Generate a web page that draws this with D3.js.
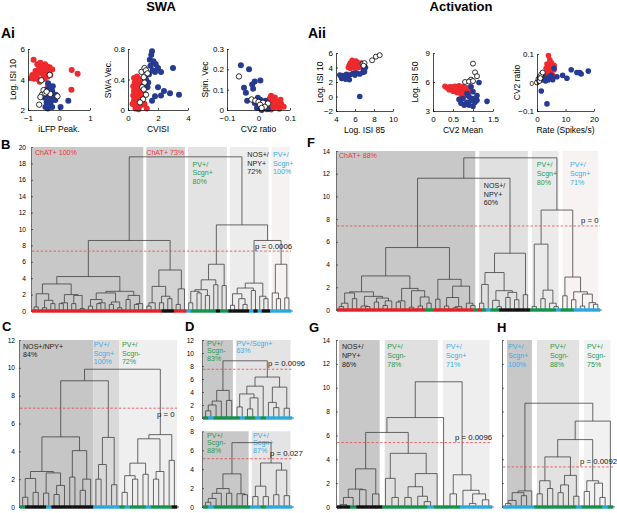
<!DOCTYPE html>
<html>
<head>
<meta charset="utf-8">
<script src="https://cdn.jsdelivr.net/npm/d3@7"></script>
<style>
  body { margin: 0; background: #fff; }
  svg { display: block; }
</style>
</head>
<body>
<svg id="fig" width="617" height="513"></svg>
<script>
// ---------- scatter data (x, y) ----------
const ai1Red = [[-0.82,5.3],[-0.7,5.0],[-0.6,5.1],[-0.52,4.95],[-0.45,5.0],[-0.38,4.85],[-0.3,4.8],[-0.58,4.8],[-0.66,4.65],[-0.76,4.55],[-0.86,4.3],[-0.9,4.1],[-0.72,4.25],[-0.6,4.45],[-0.5,4.55],[-0.42,4.45],[-0.32,4.55],[-0.22,4.65],[-0.36,4.2],[-0.5,4.25],[-0.66,4.0],[-0.8,4.05],[-0.46,4.05],[-0.28,4.3],[-0.55,4.65],[-0.4,4.65],[-0.62,3.85],[0.41,4.62],[0.6,4.38],[0.4,3.33],[-0.33,3.45],[-0.35,3.6]];
const ai1Blue = [[-0.35,3.75],[-0.3,3.55],[-0.42,3.35],[-0.22,3.25],[-0.36,3.05],[-0.26,2.95],[-0.46,2.8],[-0.32,2.7],[-0.16,2.85],[-0.4,2.5],[-0.3,2.4],[-0.44,2.2],[-0.36,2.1],[-0.22,2.2],[-0.26,2.55],[-0.12,2.65],[0.05,2.2],[0.3,2.6],[-0.2,3.55],[-0.1,3.0],[-0.38,2.3]];
const ai1Open = [[-0.64,2.35],[-0.55,3.0],[-0.5,3.3],[-0.44,3.1],[-0.3,4.3],[-0.57,3.95],[-0.05,2.9],[-0.28,3.05],[-0.6,2.85],[-0.4,3.2]];

const ai2Red = [[0.4,0.42],[0.55,0.4],[0.7,0.41],[0.45,0.36],[0.6,0.35],[0.8,0.37],[0.35,0.31],[0.5,0.3],[0.65,0.29],[0.85,0.31],[0.4,0.25],[0.55,0.24],[0.7,0.23],[0.9,0.25],[0.35,0.19],[0.5,0.18],[0.65,0.17],[0.8,0.18],[0.4,0.13],[0.55,0.12],[0.7,0.11],[0.9,0.12],[0.45,0.07],[0.6,0.06],[0.75,0.05],[0.95,0.07],[0.5,0.02],[0.7,0.01],[1.05,0.22],[1.1,0.08],[1.25,0.02],[0.6,0.44],[0.3,0.08]];
const ai2Blue = [[1.6,0.77],[1.55,0.72],[1.45,0.66],[1.7,0.64],[1.85,0.6],[1.5,0.58],[2.0,0.55],[1.65,0.52],[1.4,0.47],[2.2,0.5],[1.8,0.5],[3.0,0.55],[1.2,0.4],[1.35,0.36],[2.0,0.3],[2.4,0.25],[2.8,0.22],[3.4,0.2],[1.8,0.18],[2.2,0.19],[1.6,0.12],[1.3,0.3]];
const ai2Open = [[0.9,0.5],[1.1,0.55],[1.2,0.52],[1.3,0.48],[1.1,0.36],[0.95,0.3],[1.05,0.27],[1.2,0.2],[1.0,0.14],[0.8,0.1],[1.05,0.43]];

const ai3Red = [[0.04,0.07],[0.052,0.062],[0.036,0.056],[0.046,0.046],[0.062,0.042],[0.032,0.032],[0.052,0.032],[0.072,0.03],[0.042,0.022],[0.062,0.022],[0.03,0.012],[0.05,0.012],[0.022,0.022],[0.08,0.016],[0.066,0.006],[0.056,0.018],[0.026,0.004],[0.04,0.002],[0.07,0.05],[0.035,0.045]];
const ai3Blue = [[-0.056,0.22],[-0.03,0.2],[-0.012,0.14],[0.006,0.145],[-0.02,0.125],[-0.017,0.105],[-0.046,0.11],[-0.04,0.085],[-0.036,0.045],[-0.002,0.06],[-0.012,0.035],[0.0,0.02],[0.006,0.05],[0.012,0.03],[0.022,0.045],[0.016,0.012],[0.026,0.022],[-0.005,0.01],[0.03,0.005],[0.01,0.0]];
const ai3Open = [[-0.062,0.165],[-0.022,0.052],[-0.01,0.046],[0.0,0.04],[0.014,0.036],[0.03,0.032],[0.005,0.026],[0.02,0.016],[0.01,0.01]];

const aii1Red = [[5.7,5.0],[5.9,4.8],[6.1,4.9],[5.5,4.6],[5.8,4.5],[6.0,4.65],[6.3,4.7],[6.5,4.5],[5.6,4.2],[5.9,4.1],[6.2,4.3],[6.6,4.3],[5.3,4.0],[6.4,4.0],[6.8,4.2],[5.5,3.9],[6.0,3.9],[6.7,4.6],[5.8,4.35],[6.3,4.5],[6.1,4.1],[5.4,4.3]];
const aii1Blue = [[4.5,2.85],[4.8,2.7],[5.0,2.85],[5.2,2.6],[4.6,2.5],[5.0,2.4],[5.4,2.3],[5.5,3.0],[5.8,3.2],[6.2,3.25],[6.5,3.1],[6.8,3.3],[7.0,3.4],[7.1,4.0],[6.0,2.95],[4.4,2.95],[5.1,3.05],[6.5,0.0],[6.9,3.8],[4.7,2.9]];
const aii1Open = [[6.8,4.5],[7.0,4.6],[7.8,5.0],[8.2,5.5],[8.6,5.7],[6.9,4.25]];

const aii2Red = [[0.3,5.55],[0.35,5.4],[0.42,5.5],[0.45,5.3],[0.5,5.5],[0.55,5.2],[0.6,5.4],[0.65,5.0],[0.7,5.3],[0.75,5.5],[0.8,5.1],[0.85,5.4],[0.9,5.0],[0.6,4.9],[0.7,4.7],[0.5,5.05],[0.8,4.6],[0.95,5.5],[0.4,5.2],[0.75,4.9],[0.65,5.6],[0.55,5.55],[0.88,4.8]];
const aii2Blue = [[0.7,3.8],[0.8,3.7],[0.9,3.6],[1.0,3.5],[0.85,3.9],[0.95,4.1],[1.05,3.9],[0.75,4.3],[0.9,4.5],[1.1,4.6],[1.0,5.0],[0.95,5.5],[1.15,5.95],[1.35,4.0],[0.65,4.2],[1.0,4.3],[0.85,4.8],[1.1,4.1],[0.78,3.6]];
const aii2Open = [[1.0,7.9],[1.05,7.0],[1.1,6.6],[0.95,6.25],[0.8,6.0],[0.9,6.05],[1.0,6.1]];

const aii3Red = [[4,0.095],[4.5,0.08],[5,0.07],[3.5,0.065],[4,0.06],[5.5,0.055],[3.2,0.05],[4.5,0.045],[5,0.04],[6,0.045],[3.8,0.035],[4.8,0.03],[5.5,0.025],[3,0.03],[4.2,0.02],[6,0.06]];
const aii3Blue = [[6,0.05],[5,0.025],[4,0.01],[3,0.005],[2,0.01],[1.5,-0.03],[3.5,-0.075],[9,0.025],[10.5,0.015],[12,0.045],[14,0.035],[15,0.035],[15.5,0.03],[18,0.04],[7,0.02],[2.5,0.02],[5.5,0.01],[4.5,0.02]];
const aii3Open = [[0,0.0],[0.5,0.012],[1,0.02],[1.5,0.028],[2,0.035],[0.8,0.005],[1.2,0.015]];

const scatterXTicks = [[-1,0,1],[0,2,4],[-0.1,0,0.1],[4,6,8,10],[0,0.5,1,1.5],[0,10,20]];
const scatterYTicks = [[2,4,6],[0,0.4,0.8],[0,0.1,0.2,0.3],[-2,0,2,4,6],[3,6,9],[-0.1,0,0.1]];
const scatterXLabels = ["iLFP Peak.","CVISI","CV2 ratio","Log. ISI 85","CV2 Mean","Rate (Spikes/s)"];
const scatterYLabels = ["Log. ISI 10","SWA Vec.","Spin. Vec","Log. ISI 10","Log. ISI 50","CV2 ratio"];

// ---------- dendrograms: node = [height, left, right], leaf = 0 ----------
const treeB = [18.8,
  [8.6,
    [4.2,
      [3.3, [2.1, [0.5,0,0], [1.3, [0.4,0,0], [0.9,0,0]]], [2.0, [1.0, [0.9,0,0], 0], [1.9, [0.9,0,0], [0.3,0,0]]]],
      [2.4, [2.2, [1.4, [0.6,0,0], [1.0, [0.9,0,0], 0]], [1.1, [0.8,0,0], [0.4,0,0]]], [1.9, [1.4,0,0], [0.9, [0.8,0,0], 0]]]],
    [5.0, [3.0, [1.0, [0.6,0,0], 0], [1.8, [1.0,0,0], [1.5,0,0]]], [2.7, [0.8,0,0], 0]]],
  [10.5,
    [5.7, [3.8, [2.6, [2.4, [1.0,0,0], [2.2,0,0]], [1.9,0,0]], [3.2,0,0]], [3.1,0,0]],
    [8.6,
      [3.4, [2.8, [2.1, [0.7,0,0], [1.5, 0, [0.8,0,0]]], [2.5,0,0]], [1.8, 0, [1.5,0,0]]],
      [5.7, [2.2, 0, [1.5,0,0]], [1.6,0,0]]]]];
const leafColorsB = "rrrrrrrrrrrrrrrrrrrrrrrrrrrrrrrkkkrrrcggggggkggkkkkkckckkccccc";
const bandSizesB = [27, 10, 10, 10, 5];
const bandLabelsB = [["ChAT+ 100%"], ["ChAT+ 73%"], ["PV+/", "Scgn+", "80%"], ["NOS+/", "NPY+", "72%"], ["PV+/", "Scgn+", "100%"]];
const bandLabelColorsB = "rrgkc";

const treeF = [13.4,
  [11.6,
    [5.5,
      [3.0,
        [1.6, [1.5, [0.6, [0.3,0,0], 0], [1.0,0,0]], [1.2, [0.35, 0, [0.3,0,0]], [1.05, [0.7,0,0], [0.8, [0.4,0,0], 0]]]],
        [1.9, [0.8, [0.7,0,0], 0], [1.7, [0.25,0,0], [1.15, [0.35,0,0], [0.6,0,0]]]]],
      [2.7, [0.95,0,0], [2.1, [1.1, [0.35,0,0], [0.3, [0.2,0,0], 0]], [0.6, 0, [0.4,0,0]]]]],
    [5.0, [3.3, [2.25, [0.6,0,0], 0], [1.7, [0.85, 0, [0.3,0,0]], [1.55, [1.1,0,0], [0.9,0,0]]]], [1.35,0,0]]],
  [8.8,
    [5.8, [0.3,0,0], [1.75, [1.0,0,0], [0.6, 0, [0.3,0,0]]]],
    [2.9, [1.25,0,0], [1.6, [0.9,0,0], [1.4, [0.35,0,0], [0.65, 0, [0.5,0,0]]]]]]];
const leafColorsF = "rrrrrrrrrrrrrrrrrrrrggrrrrrrrrrgrgcggkkkkkkkggggggcgggcccccc";
const bandSizesF = [32, 12, 7, 9];
const bandLabelsF = [["ChAT+ 88%"], ["NOS+/", "NPY+", "60%"], ["PV+/", "Scgn+", "80%"], ["PV+/", "Scgn+", "71%"]];
const bandLabelColorsF = "rkgc";

const treeC = [9.9,
  [9.07,
    [5.04,
      [2.55, [2.05, [0.7,0,0], [1.05,0,0]], [2.45, [1.0,0,0], [1.55, [0.9,0,0], 0]]],
      [4.05, [2.15,0,0], [2.0, [1.2,0,0], 0]]],
    [5.0, [3.05, [2.0,0,0], 0], [1.6,0,0]]],
  [5.2, [4.9, [3.15, [2.25, [1.05,0,0], [2.0,0,0]], [2.35,0,0]], [2.55, [2.0,0,0], 0]], [3.35,0,0]]];
const leafColorsC = "gkkkkckkkkkkkkcccccgcgggcggggk";
const bandSizesC = [14, 5, 11];
const bandLabelsC = [["NOS+/NPY+", "84%"], ["PV+/", "Scgn+", "100%"], ["PV+/", "Scgn-", "72%"]];
const bandLabelColorsC = "kcg";

const treeDTop = [8.8,
  [4.25, [2.6, [2.0, [1.1,0,0], 0], 0], [2.7,0,0]],
  [6.3, [4.9, [3.7, [1.7,0,0], [3.1, [1.4,0,0], 0]], 0], [4.75, [2.4, 0, [1.6,0,0]], [1.5,0,0]]]];
const leafColorsDTop = "gcgggggcggcgccccc";
const bandSizesDTop = [6, 11];
const bandLabelsDTop = [["PV+/", "Scgn-", "83%"], ["PV+/Scgn+", "63%"]];
const bandLabelColorsDTop = "gc";

const treeDBot = [6.8,
  [3.5, [1.95, [1.45, [0.9, [0.5,0,0], 0], 0], [1.45,0,0]], [1.4, 0, [1.3,0,0]]],
  [4.65, [2.2, [1.1,0,0], [1.1,0,0]], [3.9, [1.3,0,0], [1.2,0,0]]]];
const leafColorsDBot = "gcgggggggccgccccc";
const bandSizesDBot = [9, 8];
const bandLabelsDBot = [["PV+/", "Scgn-", "88%"], ["PV+/", "Scgn+", "87%"]];
const bandLabelColorsDBot = "gc";

const treeG = [10.5,
  [7.5,
    [6.25,
      [3.2, [1.5, [0.8, [0.2,0,0], 0], [1.45,0,0]], [1.1,0,0]],
      [4.5, [2.4, 0, [0.8,0,0]], [2.8, [1.7, [0.8,0,0], [0.9, 0, [0.45,0,0]]], 0]]],
    0],
  [2.7, [1.1,0,0], [1.4, 0, [1.1, [0.3,0,0], [0.6,0,0]]]]];
const leafColorsG = "kkgkkkkgggggggcggggccccc";
const bandSizesG = [7, 9, 8];
const bandLabelsG = [["NOS+/", "NPY+", "86%"], ["PV+/", "Scgn-", "78%"], ["PV+/", "Scgn+", "71%"]];
const bandLabelColorsG = "kgc";

const treeH = [8.7,
  [1.35, [1.2, [0.55, [0.3,0,0], 0], [0.95,0,0]], 0],
  [7.2,
    [5.65,
      [4.2, [2.2, [1.1,0,0], [1.55,0,0]], [2.65, [1.85, [1.2,0,0], 0], [0.9,0,0]]],
      [2.2, [1.3,0,0], [2.0, 0, [0.8,0,0]]]],
    0]];
const leafColorsH = "ccccccggggggggcggggcg";
const bandSizesH = [6, 9, 6];
const bandLabelsH = [["PV+/", "Scgn+", "100%"], ["PV+/", "Scgn-", "88%"], ["PV+/", "Scgn-", "75%"]];
const bandLabelColorsH = "cgg";

// cut heights and p values, in panel order B, F, C, D top, D bottom, G, H
const cutHeights = [7.3, 7.4, 7.1, 7.5, 5.1, 5.4, 3.36];
const pLabels = ["p = 0.0006", "p = 0", "p = 0", "p = 0.0096", "p = 0.027", "p = 0.0096", "p = 0.0092"];

// ---------- drawing ----------
const font = '"Liberation Sans", Arial, Helvetica, sans-serif';
const leafColor = { r: "#e41f26", k: "#111111", g: "#13924a", c: "#2aa8e0" };
const textColor = { r: "#e8383d", k: "#222222", g: "#2b9a4a", c: "#3aaee3" };
const dotRed = "#ee2a2e", dotBlue = "#253a90";

const svg = d3.select("#fig").style("font-family", font);
svg.append("rect").attr("width", 617).attr("height", 513).attr("fill", "#fff");

const fmt = v => (v < 0 ? "\u2212" : "") + Math.abs(v);

function styleAxis(g, size) {
  g.attr("font-family", font).attr("font-size", size);
  g.selectAll("path, line").attr("stroke", "#000").attr("stroke-width", 0.7);
  g.selectAll("text").attr("fill", "#000");
}

const scatterBoxes = [
  { l: 28, r: 90, b: 110, t: 49, ylx: 13, rad: 3.0 },
  { l: 128, r: 188, b: 110, t: 49, ylx: 108, rad: 3.0 },
  { l: 227, r: 290, b: 110, t: 49, ylx: 205, rad: 3.0 },
  { l: 336, r: 393, b: 111, t: 53, ylx: 320, rad: 2.8 },
  { l: 433, r: 493, b: 111, t: 53, ylx: 415, rad: 2.8 },
  { l: 537, r: 594, b: 111, t: 54, ylx: 517, rad: 2.8 }
];
const scatterSets = [
  [ai1Red, ai1Blue, ai1Open], [ai2Red, ai2Blue, ai2Open], [ai3Red, ai3Blue, ai3Open],
  [aii1Red, aii1Blue, aii1Open], [aii2Red, aii2Blue, aii2Open], [aii3Red, aii3Blue, aii3Open]
];

scatterBoxes.forEach((box, i) => {
  const x = d3.scaleLinear().domain(d3.extent(scatterXTicks[i])).range([box.l, box.r]);
  const y = d3.scaleLinear().domain(d3.extent(scatterYTicks[i])).range([box.b, box.t]);
  const g = svg.append("g");

  const [red, blue, open] = scatterSets[i];
  g.selectAll("circle.red").data(red).join("circle")
    .attr("cx", d => x(d[0])).attr("cy", d => y(d[1])).attr("r", box.rad).attr("fill", dotRed);
  g.selectAll("circle.blue").data(blue).join("circle")
    .attr("cx", d => x(d[0])).attr("cy", d => y(d[1])).attr("r", box.rad).attr("fill", dotBlue);
  g.selectAll("circle.open").data(open).join("circle")
    .attr("cx", d => x(d[0])).attr("cy", d => y(d[1])).attr("r", box.rad - 0.3)
    .attr("fill", "#fff").attr("stroke", "#000").attr("stroke-width", 0.8);

  g.append("g").attr("transform", `translate(0,${box.b})`)
    .call(d3.axisBottom(x).tickValues(scatterXTicks[i]).tickSize(-2).tickSizeOuter(0).tickPadding(5.5).tickFormat(fmt))
    .call(a => styleAxis(a, 8));
  g.append("g").attr("transform", `translate(${box.l},0)`)
    .call(d3.axisLeft(y).tickValues(scatterYTicks[i]).tickSize(-2).tickSizeOuter(0).tickPadding(3).tickFormat(fmt))
    .call(a => styleAxis(a, 8));

  g.append("text").attr("x", (box.l + box.r) / 2).attr("y", box.b + 22)
    .attr("text-anchor", "middle").attr("font-size", 8.5).text(scatterXLabels[i]);
  g.append("text").attr("transform", `translate(${box.ylx},${(box.b + box.t) / 2}) rotate(-90)`)
    .attr("dy", "0.35em").attr("text-anchor", "middle").attr("font-size", 8.5).text(scatterYLabels[i]);
});

// dendrogram panels
const dendroSpecs = [
  { tree: treeB, colors: leafColorsB, bands: bandSizesB, labels: bandLabelsB, labelColors: bandLabelColorsB },
  { tree: treeF, colors: leafColorsF, bands: bandSizesF, labels: bandLabelsF, labelColors: bandLabelColorsF },
  { tree: treeC, colors: leafColorsC, bands: bandSizesC, labels: bandLabelsC, labelColors: bandLabelColorsC },
  { tree: treeDTop, colors: leafColorsDTop, bands: bandSizesDTop, labels: bandLabelsDTop, labelColors: bandLabelColorsDTop },
  { tree: treeDBot, colors: leafColorsDBot, bands: bandSizesDBot, labels: bandLabelsDBot, labelColors: bandLabelColorsDBot },
  { tree: treeG, colors: leafColorsG, bands: bandSizesG, labels: bandLabelsG, labelColors: bandLabelColorsG },
  { tree: treeH, colors: leafColorsH, bands: bandSizesH, labels: bandLabelsH, labelColors: bandLabelColorsH }
];
const dendroLayout = [
  { x0: 32, x1: 291, y0: 311, yTop: 147, hMax: 20, gap: 5, ticks: true, first: 0, inset: 1.5,
    shades: ["#c8c8c8", "#d3d3d3", "#e3e3e3", "#ececec", "#f5f2f1"],
    labelDx: [3, 1.5, 6, 19, 3], labelY: [155, 155, 166.5, 157, 157], lineH: 8.6, pdx: -36, pdy: -1.8 },
  { x0: 337, x1: 600, y0: 310, yTop: 151, hMax: 14, gap: 6, ticks: true, first: 0, inset: 2,
    shades: ["#c8c8c8", "#e0e0e0", "#eaeaea", "#f6f3f2"],
    labelDx: [2, 6.5, 7, 9.5], labelY: [158, 188, 167.3, 167.3], lineH: 8.6, pdx: -19, pdy: -3 },
  { x0: 20, x1: 177, y0: 507, yTop: 340, hMax: 12, gap: 4, ticks: true, first: 0, inset: 0,
    shades: ["#c6c6c6", "#d9d9d9", "#efefef"],
    labelDx: [3, 0.5, 2.5], labelY: [348.7, 347.3, 347.3], lineH: 8.5, pdx: -20, pdy: 8.7 },
  { x0: 203, x1: 292, y0: 418, yTop: 340, hMax: 12, gap: 8, ticks: true, first: 0, inset: 1.5,
    shades: ["#c8c8c8", "#e4e4e4"],
    labelDx: [4, 2], labelY: [346, 346], lineH: 7.3, pdx: -24, pdy: -3.3 },
  { x0: 203, x1: 292, y0: 507, yTop: 431.3, hMax: 8, gap: 8, ticks: true, first: 0, inset: 1.5,
    shades: ["#c8c8c8", "#e4e4e4"],
    labelDx: [4, 3], labelY: [437.5, 437.5], lineH: 7.8, pdx: -22, pdy: -2.8 },
  { x0: 337, x1: 492, y0: 507, yTop: 340, hMax: 14, gap: 6, ticks: true, first: 2, inset: 2.5,
    shades: ["#c8c8c8", "#e0e0e0", "#eeeeee"],
    labelDx: [5, 5, 5.7], labelY: [349.3, 349.3, 349.3], lineH: 8.6, pdx: -37, pdy: -2.7 },
  { x0: 503, x1: 613, y0: 507, yTop: 340, hMax: 14, gap: 6, ticks: false, first: 4, inset: 2.5,
    shades: ["#c8c8c8", "#e2e2e2", "#f1f1f1"],
    labelDx: [5, 15.5, 5.5], labelY: [349.3, 349.3, 349.3], lineH: 8.6, pdx: -33, pdy: -3 }
];

dendroSpecs.forEach((spec, k) => {
  const lay = dendroLayout[k];
  const n = spec.colors.length;
  const x = d3.scaleLinear().domain([-0.5, n - 0.5]).range([lay.x0, lay.x1]);
  const y = d3.scaleLinear().domain([0, lay.hMax]).range([lay.y0, lay.yTop]);
  const g = svg.append("g");

  // shaded cluster bands
  let start = 0;
  const bands = spec.bands.map((size, i) => {
    const b = { i, a: start, b: start + size - 1 };
    start += size;
    return b;
  });
  g.selectAll("rect.band").data(bands).join("rect")
    .attr("x", d => x(d.a - 0.5) + (d.i === 0 ? lay.first : lay.inset))
    .attr("width", d => x(d.b + 0.5) - x(d.a - 0.5) - (d.i === 0 ? lay.first : lay.inset) - lay.inset)
    .attr("y", y(lay.hMax)).attr("height", y(0) - y(lay.hMax))
    .attr("fill", d => lay.shades[d.i]);

  // cluster labels
  bands.forEach(d => {
    const lx = x(d.a - 0.5) + lay.labelDx[d.i];
    const t = g.append("text").attr("x", lx).attr("y", lay.labelY[d.i])
      .attr("font-size", 7.1).attr("fill", textColor[spec.labelColors[d.i]]);
    spec.labels[d.i].forEach((line, j) => {
      t.append("tspan").attr("x", lx).attr("dy", j ? lay.lineH : 0).text(line);
    });
  });

  // axes
  const ax = g.append("g").attr("transform", `translate(${lay.x0 - 1},0)`)
    .call(d3.axisLeft(y).tickValues(d3.range(0, lay.hMax + 1, 2)).tickSize(-2).tickSizeOuter(0)
      .tickPadding(lay.gap).tickFormat(lay.ticks ? d3.format("d") : () => ""));
  styleAxis(ax, 6.6);
  ax.selectAll("path, line").attr("stroke", "#333");
  g.append("line").attr("x1", lay.x0 - 1).attr("x2", lay.x1 + 2).attr("y1", y(0)).attr("y2", y(0))
    .attr("stroke", "#333").attr("stroke-width", 0.7);

  // tree layout: leaves evenly spaced, internal node at mean of its children
  const root = d3.hierarchy(spec.tree, d => Array.isArray(d) ? [d[1], d[2]] : null);
  root.leaves().forEach((leaf, i) => { leaf.idx = i; });
  root.eachAfter(d => {
    d.h = Array.isArray(d.data) ? d.data[0] : 0;
    d.px = d.children ? (d.children[0].px + d.children[1].px) / 2 : x(d.idx);
  });

  g.append("g").selectAll("path")
    .data(root.descendants().filter(d => d.children))
    .join("path")
    .attr("d", d => {
      const [a, b] = d.children;
      return `M${a.px},${y(a.h)}V${y(d.h)}H${b.px}V${y(b.h)}`;
    })
    .attr("fill", "none").attr("stroke", "#3a3a3a").attr("stroke-width", 0.75);

  // cut line and p value
  g.append("line").attr("x1", lay.x0).attr("x2", lay.x1)
    .attr("y1", y(cutHeights[k])).attr("y2", y(cutHeights[k]))
    .attr("stroke", "#e5484d").attr("stroke-width", 0.8).attr("stroke-dasharray", "2.5,1.8");
  g.append("text").attr("x", lay.x1 + lay.pdx).attr("y", y(cutHeights[k]) + lay.pdy)
    .attr("font-size", 7.8).attr("fill", "#111").text(pLabels[k]);

  // leaf colour bar
  g.append("g").selectAll("rect")
    .data(root.leaves())
    .join("rect")
    .attr("x", d => x(d.idx - 0.5)).attr("width", x(1) - x(0) + 0.3)
    .attr("y", y(0) - 1.7).attr("height", 3.4)
    .attr("fill", d => leafColor[spec.colors[d.idx]]);
});

// titles and panel letters
svg.append("text").attr("x", 161).attr("y", 11).attr("text-anchor", "middle")
  .attr("font-size", 13).attr("font-weight", "bold").text("SWA");
svg.append("text").attr("x", 461).attr("y", 11).attr("text-anchor", "middle")
  .attr("font-size", 13).attr("font-weight", "bold").text("Activation");

const panelLetters = [["Ai", 1, 38, 14], ["Aii", 308, 38, 14], ["B", 1, 149, 13], ["F", 307, 147, 13],
  ["C", 2, 331, 13], ["D", 185, 331, 13], ["G", 309, 332, 13], ["H", 497, 332, 13]];
svg.selectAll("text.letter").data(panelLetters).join("text")
  .attr("class", "letter")
  .attr("x", d => d[1]).attr("y", d => d[2]).attr("font-size", d => d[3])
  .attr("font-weight", "bold").text(d => d[0]);
</script>
</body>
</html>
